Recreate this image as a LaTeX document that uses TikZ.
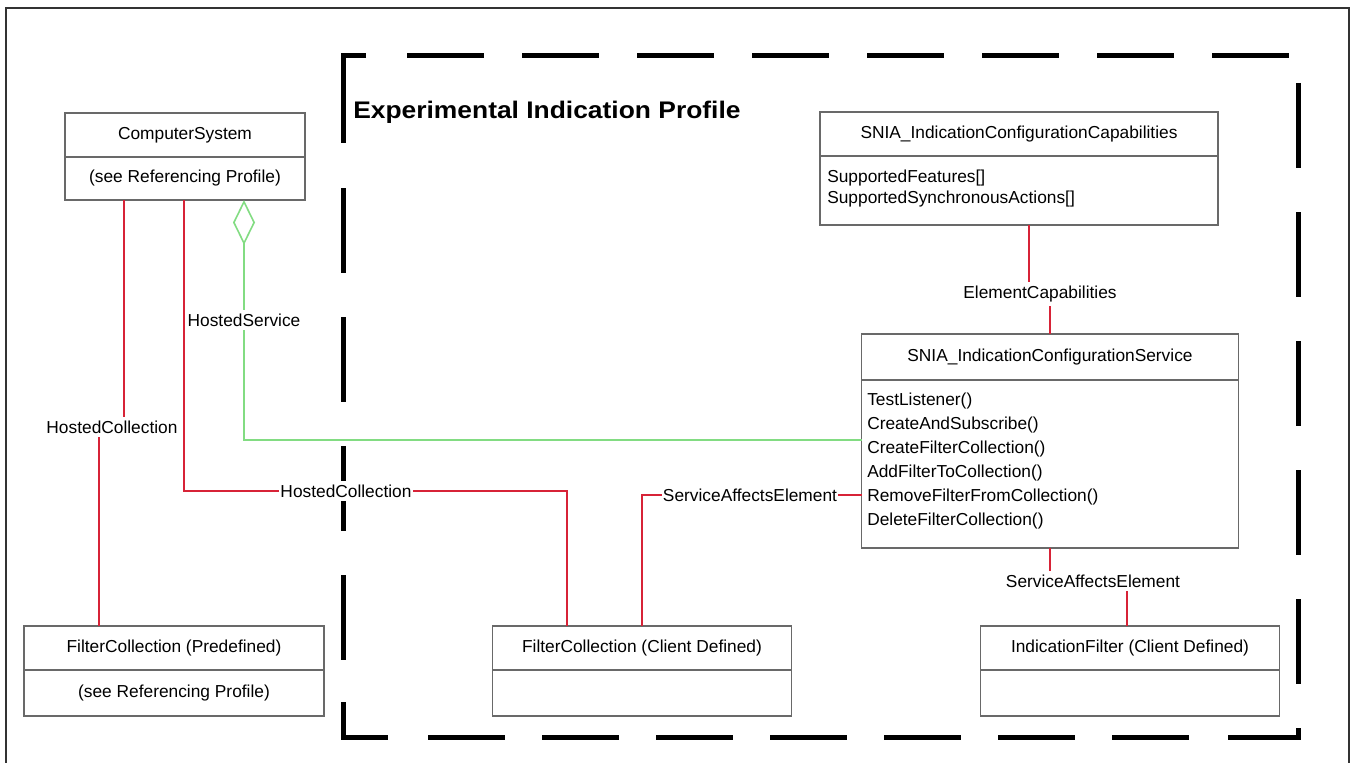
\documentclass[tikz,border=0pt]{standalone}
\usepackage{fontspec}
\setmainfont{Liberation Sans}
\newfontfamily\titlefont{Liberation Sans}[FakeStretch=1.1]
\usetikzlibrary{arrows.meta,positioning}
\definecolor{assocred}{RGB}{215,35,55}
\definecolor{aggrgreen}{RGB}{130,220,130}
\definecolor{boxgray}{RGB}{105,105,105}

\begin{document}
\begin{tikzpicture}[x=0.75pt,y=-0.75pt]
\tikzset{
  classname/.style={rectangle,draw=boxgray,line width=1pt,outer sep=0pt,minimum width=#1,minimum height=33pt,inner sep=2pt,font=\fontsize{13pt}{15pt}\selectfont},
  classbody/.style={rectangle,draw=boxgray,line width=1pt,outer sep=0pt,minimum width=#1,inner sep=2pt,font=\fontsize{13pt}{15pt}\selectfont},
  membertext/.style={anchor=base west,inner sep=0pt,font=\fontsize{13pt}{15pt}\selectfont},
  assoc/.style={draw=assocred,line width=1.2pt},
  aggreg/.style={draw=aggrgreen,line width=1.2pt,{Diamond[open,length=33.75pt,width=16.5pt]}-},
  assoclabel/.style={fill=white,inner xsep=1pt,inner ysep=3pt,font=\fontsize{13pt}{15pt}\selectfont},
  profileframe/.style={draw=black,line width=3.75pt},
  outerframe/.style={draw=black!80,line width=1.5pt}
}
\useasboundingbox (0,0) rectangle (1352,763);
\draw[outerframe] (6,770) -- (6,8) -- (1349,8) -- (1349,770);

% profile frame
\draw[profileframe] (366,56) -- (343,56) -- (343,143);
\draw[profileframe] \foreach \a in {407,522,...,1212} {(\a,56) -- ++(77,0)};
\draw[profileframe] \foreach \a in {188,317,...,575} {(343,\a) -- ++(0,85)};
\draw[profileframe] (343,702) -- (343,737) -- (388,737);
\draw[profileframe] \foreach \a in {428,542,...,1112} {(\a,737) -- ++(77,0)};
\draw[profileframe] \foreach \a in {83,212,...,599} {(1298,\a) -- ++(0,85)};
\draw[profileframe] (1228,737) -- (1298,737) -- (1298,728);
\node[anchor=base west,inner sep=0pt,font=\titlefont\bfseries\fontsize{18pt}{20pt}\selectfont] (title) at (353,119) {Experimental Indication Profile};

% classes
\node[classname=180pt] (cs) at (185,135) {ComputerSystem};
\node[classbody=180pt,minimum height=32.25pt,below=0pt of cs] (csb) {(see Referencing Profile)};
\node[classname=225pt] (fcp) at (174,648) {FilterCollection (Predefined)};
\node[classbody=225pt,minimum height=34.5pt,below=0pt of fcp] (fcpb) {(see Referencing Profile)};
\node[classname=224.25pt] (fcc) at (642,648) {FilterCollection (Client Defined)};
\node[classbody=224.25pt,minimum height=34.5pt,below=0pt of fcc] (fccb) {};
\node[classname=224.25pt] (ifl) at (1130,648) {IndicationFilter (Client Defined)};
\node[classbody=224.25pt,minimum height=34.5pt,below=0pt of ifl] (iflb) {};
\node[classname=298.5pt] (cap) at (1019,134) {SNIA\_IndicationConfigurationCapabilities};
\node[classbody=298.5pt,minimum height=51.75pt,below=0pt of cap] (capb) {};
\node[membertext] (cap_a1) at (827,182) {SupportedFeatures[]};
\node[membertext] (cap_a2) at (827,204) {SupportedSynchronousActions[]};
\node[classname=282.75pt,minimum height=34.5pt] (svc) at (1050,357) {SNIA\_IndicationConfigurationService};
\node[classbody=282.75pt,minimum height=126pt,below=0pt of svc] (svcb) {};
\node[membertext] (svc_m1) at (867,405) {TestListener()};
\node[membertext] (svc_m2) at (867,429) {CreateAndSubscribe()};
\node[membertext] (svc_m3) at (867,453) {CreateFilterCollection()};
\node[membertext] (svc_m4) at (867,477) {AddFilterToCollection()};
\node[membertext] (svc_m5) at (867,501) {RemoveFilterFromCollection()};
\node[membertext] (svc_m6) at (867,525) {DeleteFilterCollection()};

% associations
\coordinate (hc_a) at (112,427);
\coordinate (hc_b) at (346,491);
\coordinate (hs) at (244,320);
\coordinate (sae_a) at (750,495);
\coordinate (ec) at (1040,294);
\coordinate (sae_b) at (1093,581);
\draw[assoc] ([xshift=-45.75pt]csb.south) |- (hc_a) -| ([xshift=-56.25pt]fcp.north);
\draw[assoc] ([xshift=-0.75pt]csb.south) |- (hc_b) -| ([xshift=-56.25pt]fcc.north);
\draw[aggreg] ([xshift=44.25pt]csb.south) |- ([yshift=18pt]svcb.west);
\draw[assoc] ([yshift=-23.25pt]svcb.west) -| (fcc.north);
\draw[assoc] ([xshift=7.5pt]capb.south) |- (ec) -| (svc.north);
\draw[assoc] (svcb.south) |- (sae_b) -| ([xshift=-2.25pt]ifl.north);
\node[assoclabel] (l_hc_a) at (hc_a) {HostedCollection};
\node[assoclabel] (l_hc_b) at (hc_b) {HostedCollection};
\node[assoclabel] (l_hs) at (hs) {HostedService};
\node[assoclabel] (l_sae_a) at (sae_a) {ServiceAffectsElement};
\node[assoclabel] (l_ec) at (ec) {ElementCapabilities};
\node[assoclabel] (l_sae_b) at (sae_b) {ServiceAffectsElement};
\end{tikzpicture}
\end{document}
